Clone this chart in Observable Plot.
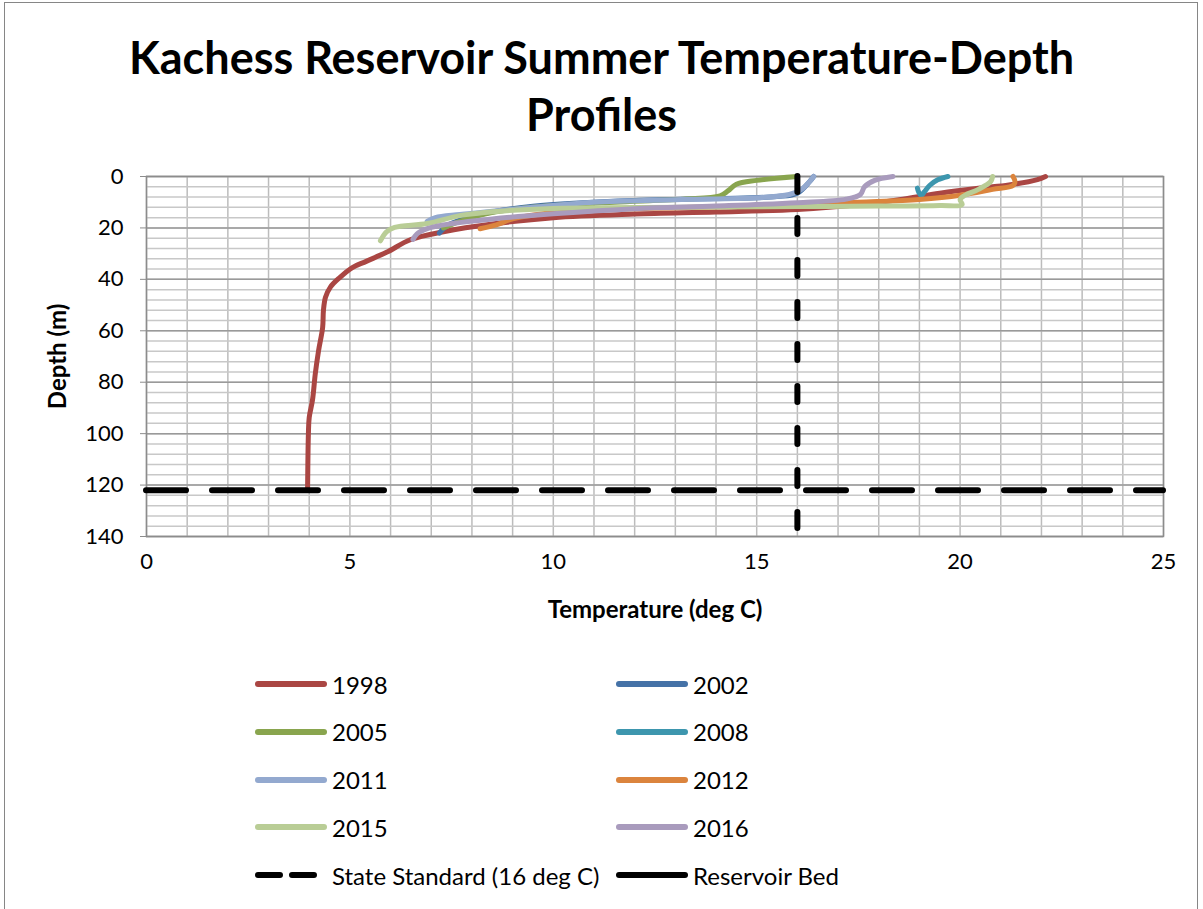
<!DOCTYPE html>
<html>
<head>
<meta charset="utf-8">
<script src="https://cdn.jsdelivr.net/npm/d3@7"></script>
<script src="https://cdn.jsdelivr.net/npm/@observablehq/plot@0.6"></script>
<style>
  html, body { margin: 0; padding: 0; background: #fff; }
  #wrap { position: relative; width: 1203px; height: 909px; overflow: hidden; font-family: Lato, "Open Sans", sans-serif; }
  #border { position: absolute; left: 4px; top: 2px; width: 1194px; height: 920px; border: 1px solid #868686; box-sizing: border-box; }
  #title { position: absolute; left: 0; width: 1203px; top: 29px; text-align: center; font-weight: bold; font-size: 45px; line-height: 57px; color: #000; }
  #chart { position: absolute; left: 0; top: 150px; }
  .leg { position: absolute; height: 30px; display: flex; align-items: center; font-size: 24px; color: #000; white-space: nowrap; }
  .leg svg { margin-right: 5px; }
</style>
</head>
<body>
<div id="wrap">
  <div id="border"></div>
  <div id="title">Kachess Reservoir Summer Temperature-Depth<br>Profiles</div>
  <div id="chart"></div>
</div>
<script>
// ---- data (temperature deg C, depth m) ----
const years = ["1998", "2002", "2005", "2008", "2011", "2012", "2015", "2016"];

const temp1998  = [22.1, 21.9, 21.2, 20.5, 19.5, 18.5, 17.5, 16, 14, 12, 10, 8.5, 7.3, 6.5, 5.9, 5.4, 5.05, 4.75, 4.52, 4.4, 4.35, 4.33, 4.23, 4.15, 4.08, 4.0, 3.98, 3.96];
const depth1998 = [0, 1.2, 3.3, 4.5, 6.5, 9, 11, 12.8, 13.8, 14.6, 16, 18.5, 21.5, 24.5, 29.5, 33, 35.5, 39.3, 43, 47, 52, 58.7, 67.7, 76.6, 87, 93.7, 100, 122];

const temp2002  = [16.4, 16.3, 16.0, 15.5, 14, 12, 10.5, 9.5, 8.6, 7.9, 7.4, 7.2];
const depth2002 = [0, 2, 6.5, 7.8, 8.6, 9.3, 10.4, 11.6, 13.5, 16, 19, 22];

const temp2005  = [16.0, 15.0, 14.5, 14.3, 14.1, 13.2, 11.5, 10, 9, 8.2, 7.6, 7.3];
const depth2005 = [0, 1.5, 3, 5.5, 7.5, 8.8, 10, 11.3, 12.8, 15, 18, 20];

const temp2008  = [19.7, 19.45, 19.25, 19.12, 19.05, 18.98, 18.95];
const depth2008 = [0, 1.3, 3.5, 6, 7.4, 6, 4.5];

const temp2011  = [16.4, 16.3, 16.1, 15.8, 15, 13, 11, 9.5, 8.5, 7.7, 7.1, 6.9];
const depth2011 = [0, 2, 5, 7, 8.3, 9, 10, 12, 13.5, 14.8, 16, 17.5];

const temp2012  = [21.3, 21.35, 21.3, 20.8, 20.0, 19.0, 17.5, 16, 14, 12, 10, 9, 8.6, 8.2];
const depth2012 = [0, 2, 3.5, 5, 7.3, 8.9, 10, 11, 11.8, 12.5, 14, 16.5, 18.8, 20.3];

const temp2015  = [20.8, 20.75, 20.45, 20.1, 20.0, 20.05, 19.5, 18, 16, 14, 12, 10, 8.5, 7.7, 6.9, 6.1, 5.9, 5.75];
const depth2015 = [0, 2, 5, 7.5, 9, 10.9, 11.3, 11.5, 11.7, 11.9, 12.1, 12.4, 13.7, 15.2, 18.3, 19.8, 21.5, 25];

const temp2016  = [18.35, 17.9, 17.65, 17.55, 17.2, 16, 14, 12, 10, 8.5, 7.3, 6.9, 6.65, 6.55];
const depth2016 = [0, 1.5, 4, 7, 8.8, 10.2, 11.5, 12.5, 14.5, 16.5, 18.8, 20.3, 22.3, 24.5];

const stateStandardTemp = 16;        // deg C
const standardDepthRange = [0, 140]; // m
const reservoirBedDepth = 122;       // m
const bedTempRange = [0, 25];

const xTicks = [0, 5, 10, 15, 20, 25];
const yTicks = [0, 20, 40, 60, 80, 100, 120, 140];

const palette = ["#AA4643", "#4572A7", "#89A54E", "#3D96AE", "#93A9CF", "#DB843D", "#B9CD96", "#A99BBD"];

// ---- build table ----
const temps = [temp1998, temp2002, temp2005, temp2008, temp2011, temp2012, temp2015, temp2016];
const depths = [depth1998, depth2002, depth2005, depth2008, depth2011, depth2012, depth2015, depth2016];
const rows = years.flatMap((yr, k) => temps[k].map((t, i) => ({year: yr, temp: t, depth: depths[k][i]})));

const chart = Plot.plot({
  width: 1203,
  height: 480,
  marginLeft: 146,
  marginRight: 40,
  marginTop: 26,
  marginBottom: 94,
  style: {fontFamily: "Lato, 'Open Sans', sans-serif", fontSize: "22px", color: "#000", background: "transparent"},
  x: {domain: [0, 25], ticks: xTicks, label: null},
  y: {domain: [0, 140], reverse: true, ticks: yTicks, label: null},
  color: {domain: years, range: palette},
  marks: [
    Plot.gridX(d3.range(0, 26, 1), {stroke: "#bcbcbc", strokeOpacity: 1, strokeWidth: 1.5}),
    Plot.gridY(d3.range(0, 141, 4), {stroke: "#c8c8c8", strokeOpacity: 1, strokeWidth: 1.5}),
    Plot.gridY(yTicks, {stroke: "#9a9a9a", strokeOpacity: 1, strokeWidth: 1.5}),
    Plot.frame({stroke: "#8c8c8c", strokeWidth: 1.5}),
    Plot.axisY({ticks: yTicks, tickSize: 6, tickPadding: 17, stroke: "#8c8c8c", label: null}),
    Plot.axisX({ticks: xTicks, tickSize: 0, tickPadding: 17, label: null}),
    Plot.line(rows, {x: "temp", y: "depth", z: "year", stroke: "year", strokeWidth: 5, curve: "catmull-rom", strokeLinecap: "round", strokeLinejoin: "round"}),
    Plot.ruleX([stateStandardTemp], {y1: standardDepthRange[0], y2: standardDepthRange[1], stroke: "#000", strokeWidth: 6, strokeDasharray: "16,26", strokeLinecap: "round"}),
    Plot.ruleY([reservoirBedDepth], {x1: bedTempRange[0], x2: bedTempRange[1], stroke: "#000", strokeWidth: 6, strokeDasharray: "40,26", strokeLinecap: "round"}),
    Plot.text(["Temperature (deg C)"], {frameAnchor: "bottom", dy: 81, textAnchor: "middle", fontWeight: "bold", fontSize: 24, fill: "#000"}),
    Plot.text(["Depth (m)"], {frameAnchor: "left", dx: -88, textAnchor: "middle", rotate: -90, fontWeight: "bold", fontSize: 24, fill: "#000"})
  ]
});
document.getElementById("chart").appendChild(chart);

// ---- legend ----
const wrap = document.getElementById("wrap");
const legendItems = years.map((yr, k) => ({label: yr, color: palette[k], dash: null}))
  .concat([{label: "State Standard (16 deg C)", color: "#000", dash: "22,12"}, {label: "Reservoir Bed", color: "#000", dash: null}]);
const colX = [255, 616];
const rowY = 684, rowStep = 47.8;
legendItems.forEach((it, i) => {
  const col = i % 2, row = Math.floor(i / 2);
  const div = document.createElement("div");
  div.className = "leg";
  div.style.left = colX[col] + "px";
  div.style.top = (rowY + row * rowStep - 15) + "px";
  const ns = "http://www.w3.org/2000/svg";
  const svg = document.createElementNS(ns, "svg");
  svg.setAttribute("width", 72); svg.setAttribute("height", 12);
  const ln = document.createElementNS(ns, "line");
  ln.setAttribute("x1", 3); ln.setAttribute("x2", it.dash ? 66 : 69); ln.setAttribute("y1", 6); ln.setAttribute("y2", 6);
  ln.setAttribute("stroke", it.color); ln.setAttribute("stroke-width", 6); ln.setAttribute("stroke-linecap", "round");
  if (it.dash) ln.setAttribute("stroke-dasharray", it.dash);
  svg.appendChild(ln);
  div.appendChild(svg);
  const sp = document.createElement("span");
  sp.textContent = it.label;
  div.appendChild(sp);
  wrap.appendChild(div);
});
</script>
</body>
</html>
